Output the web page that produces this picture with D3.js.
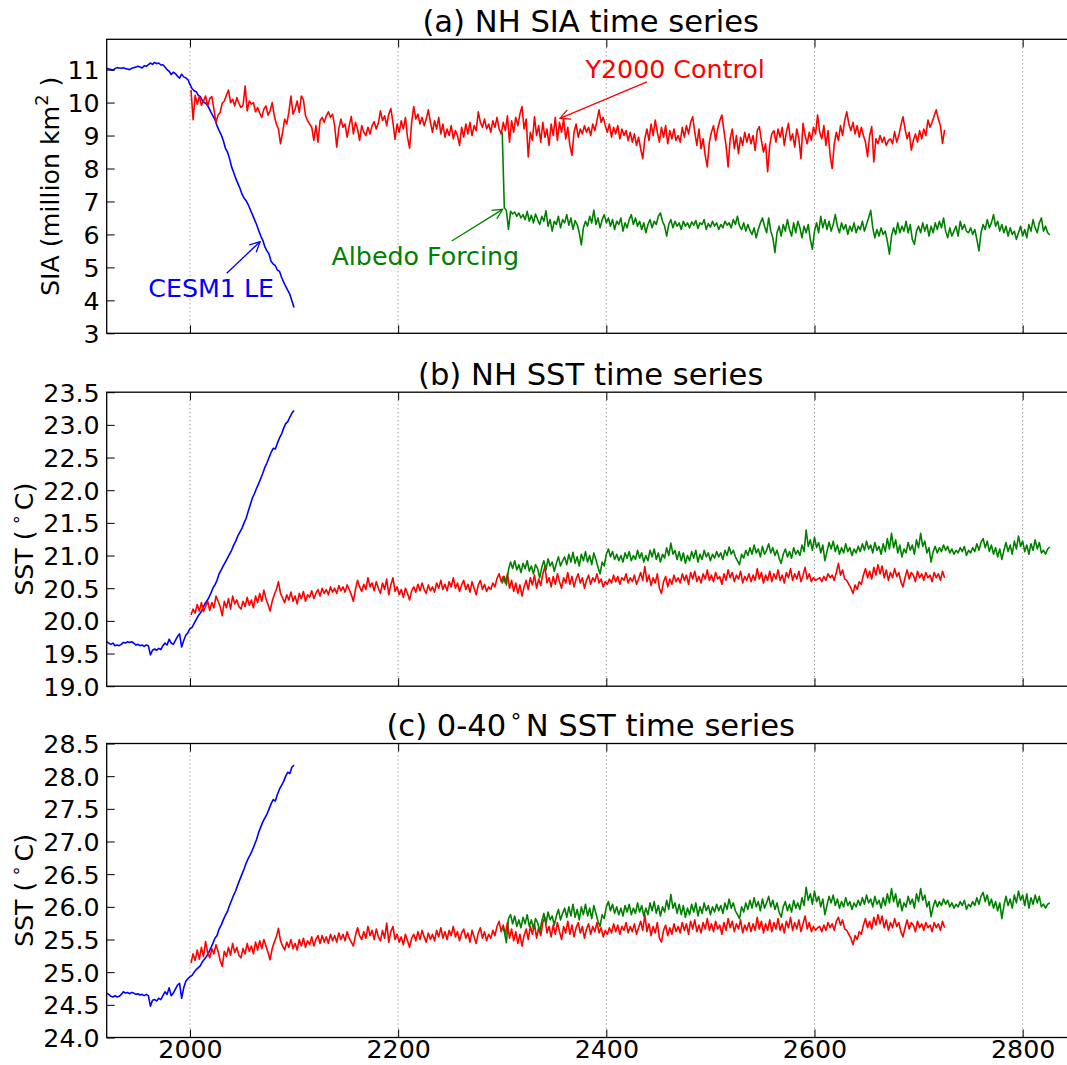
<!DOCTYPE html>
<html><head><meta charset="utf-8">
<script src="https://cdn.jsdelivr.net/npm/d3@7"></script>
<style>
body{margin:0;background:#fff}
svg{display:block}
text{font-family:"DejaVu Sans",sans-serif}
</style>
</head><body>
<svg id="chart" width="1067" height="1065"></svg>
<script>
// ---------------- DATA ----------------
const xDomain = [1920, 2850];
const xTicks = [2000, 2200, 2400, 2600, 2800];
const STEP = 2;                 // years between stored values
const leStart = 1920, ctrlStart = 2001, albStart = 2300;

const siaTicks = [3,4,5,6,7,8,9,10,11];
const nhTicks = [19.0,19.5,20.0,20.5,21.0,21.5,22.0,22.5,23.0,23.5];
const trTicks = [24.0,24.5,25.0,25.5,26.0,26.5,27.0,27.5,28.0,28.5];

// (a) NH SIA, million km^2
const siaLE = [
11.04,11.02,11.00,10.98,11.03,11.06,11.05,11.04,11.06,11.03,
11.02,11.00,11.04,11.06,11.08,11.10,11.08,11.05,11.12,11.10,
11.15,11.20,11.16,11.22,11.18,11.20,11.14,11.15,11.08,11.00,
10.95,10.85,10.92,10.88,10.80,10.74,10.86,10.78,10.75,10.70,
10.55,10.42,10.36,10.33,10.22,10.18,10.05,10.00,9.95,9.85,
9.72,9.60,9.48,9.30,9.15,9.02,8.85,8.62,8.50,8.30,
8.05,7.88,7.70,7.55,7.40,7.22,7.10,7.02,6.90,6.75,
6.60,6.45,6.30,6.12,5.95,5.82,5.62,5.50,5.40,5.18,
5.10,5.05,4.92,4.88,4.70,4.55,4.42,4.30,4.18,3.98,
3.78];
const siaCtrl = [
10.38,9.48,10.22,9.95,10.20,9.92,10.05,10.20,9.90,10.12,
10.18,9.80,9.40,9.62,9.70,9.98,10.05,10.22,10.38,10.00,
10.10,9.90,10.15,9.98,9.85,9.92,10.50,9.75,10.05,9.95,
10.00,9.72,9.85,9.68,9.55,9.80,9.90,9.62,9.75,10.00,
9.60,9.35,9.20,8.75,9.10,9.50,9.35,9.70,10.20,9.65,
9.80,10.05,9.70,10.20,10.08,9.60,9.45,9.35,9.25,8.85,
9.30,8.80,9.45,9.55,9.40,9.60,9.72,9.55,9.65,9.30,
8.65,9.20,9.50,9.25,9.35,8.95,9.30,9.58,9.05,9.40,
9.20,8.85,9.30,9.10,9.00,9.25,9.05,9.30,9.42,9.20,
9.38,9.75,9.45,9.60,9.30,9.65,9.82,9.40,8.88,9.35,
9.10,9.45,9.20,9.55,8.95,8.62,9.40,9.88,9.50,9.65,
9.35,9.55,9.30,9.50,9.78,9.40,9.10,9.45,9.20,9.55,
9.05,9.35,8.95,9.20,9.00,9.30,8.90,9.15,9.00,8.70,
9.25,8.95,9.35,9.05,9.40,9.00,9.30,9.15,9.72,9.40,
9.25,9.50,9.20,9.35,9.10,9.45,9.25,9.55,9.20,9.05,
9.40,9.15,9.60,8.80,9.45,9.10,9.55,9.30,9.65,9.88,
9.20,9.50,8.35,9.10,8.85,9.57,9.00,9.30,8.80,9.40,
8.95,9.20,8.70,9.35,9.00,9.55,8.85,9.40,9.10,9.50,
8.90,9.25,8.70,8.40,9.10,9.35,8.95,9.20,9.05,9.30,
9.10,9.25,9.00,9.35,9.15,9.45,9.78,9.40,9.55,9.30,
9.10,9.35,8.95,9.25,9.05,9.30,8.90,9.20,9.00,9.15,
8.85,9.10,8.80,9.05,8.70,8.95,8.60,8.30,8.90,9.20,
8.85,9.35,9.00,9.47,9.10,8.80,9.25,8.95,9.30,8.75,
9.15,8.90,9.20,8.85,9.00,8.80,9.25,8.95,9.30,9.05,
9.40,9.57,9.10,8.70,9.20,8.60,8.90,8.40,8.05,8.80,
9.10,9.30,8.85,9.20,9.45,9.62,9.15,8.70,8.05,8.90,
9.20,8.60,9.00,8.45,8.95,8.70,9.10,8.80,9.05,8.75,
9.00,8.55,9.15,9.27,8.85,8.50,8.75,7.90,8.70,9.05,
9.15,8.80,9.20,8.95,9.25,8.70,9.10,9.37,8.85,9.05,
8.65,9.20,8.90,8.30,9.37,9.00,8.75,9.10,8.85,9.25,
9.05,9.62,9.10,8.90,9.30,8.70,9.15,8.40,8.00,8.75,
9.10,8.85,9.30,9.00,9.45,9.72,9.35,9.15,9.40,9.05,
9.30,8.95,9.25,9.00,8.80,8.36,9.00,9.27,8.20,8.90,
8.75,9.00,8.80,8.95,8.70,8.85,8.90,8.75,9.12,8.80,
9.00,9.30,9.57,9.20,8.90,9.10,8.56,8.85,9.05,8.80,
9.15,8.90,9.20,9.00,9.47,9.25,9.40,9.60,9.78,9.50,
9.30,8.76,9.17];
const siaAlb = [
9.10,6.82,6.72,6.15,6.70,6.62,6.68,6.55,6.65,6.50,
6.60,6.45,6.70,6.40,6.58,6.35,6.62,6.45,6.30,6.55,
6.40,6.72,6.25,6.45,6.10,6.40,6.30,6.55,6.20,6.45,
6.35,6.60,6.28,6.50,6.15,6.42,6.30,6.05,5.68,6.20,
6.40,6.25,6.55,6.35,6.74,6.30,6.50,6.20,6.45,6.60,
6.35,6.50,6.25,6.45,6.15,6.40,6.30,6.50,6.10,6.35,
6.20,6.45,6.60,6.30,6.50,6.25,6.40,6.15,6.35,6.05,
6.30,6.45,6.20,6.40,6.30,6.55,6.65,6.40,6.25,5.95,
6.30,6.45,6.20,6.40,6.25,6.35,6.15,6.40,6.25,6.35,
6.20,6.38,6.28,6.42,6.18,6.35,6.30,6.45,6.15,6.33,
6.22,6.40,6.25,6.35,6.15,6.30,6.20,6.40,6.28,6.35,
6.20,6.45,6.30,6.55,6.25,6.15,6.35,6.10,6.30,6.12,
6.00,6.20,5.90,6.15,6.35,6.50,6.25,6.05,6.50,6.10,
5.90,5.45,6.05,6.25,5.95,6.30,6.10,6.45,6.15,5.95,
6.35,6.05,6.40,6.20,5.90,6.25,6.05,6.30,5.85,5.55,
6.10,6.35,6.05,6.55,6.20,6.45,6.15,6.40,6.10,6.30,
6.60,6.25,6.05,6.35,6.15,6.30,6.00,6.25,6.10,6.35,
6.05,6.25,6.15,6.40,6.10,6.30,6.50,6.73,6.20,5.90,
6.15,5.95,6.20,6.00,6.10,5.80,5.40,5.95,6.20,6.00,
6.35,6.05,6.25,6.10,6.40,6.05,6.30,5.85,5.70,6.10,
6.25,6.05,6.35,6.10,6.30,5.95,6.25,6.05,6.35,6.15,
6.40,6.20,6.50,6.10,5.90,6.20,5.95,6.10,6.25,5.95,
6.40,6.15,6.30,6.10,6.05,6.20,6.00,6.15,5.85,5.50,
6.05,6.30,6.15,6.45,6.20,6.35,6.60,6.25,6.40,6.10,
6.30,6.05,6.25,5.95,6.20,6.00,6.10,5.85,6.05,6.25,
5.95,6.15,5.90,6.30,6.10,6.45,6.20,6.05,6.35,6.50,
6.10,6.25,6.05,5.98];

// (b) NH SST, deg C
const nhLE = [
19.68,19.66,19.64,19.66,19.62,19.63,19.62,19.64,19.67,19.66,
19.68,19.67,19.68,19.66,19.63,19.64,19.62,19.63,19.61,19.63,
19.62,19.48,19.55,19.57,19.55,19.58,19.56,19.62,19.66,19.63,
19.72,19.66,19.64,19.70,19.76,19.80,19.60,19.70,19.78,19.82,
19.88,19.90,19.96,20.02,20.08,20.12,20.18,20.25,20.30,20.35,
20.42,20.50,20.55,20.62,20.72,20.78,20.84,20.90,20.96,21.02,
21.08,21.16,21.22,21.30,21.36,21.42,21.50,21.57,21.68,21.78,
21.88,21.95,22.03,22.10,22.18,22.26,22.35,22.42,22.50,22.58,
22.64,22.63,22.72,22.80,22.86,22.95,23.02,23.05,23.12,23.18,
23.22];
const nhCtrl = [
20.09,20.18,20.12,20.25,20.15,20.28,20.14,20.22,20.30,20.16,
20.28,20.20,20.38,20.30,20.22,20.08,20.30,20.20,20.34,20.18,
20.38,20.26,20.32,20.22,20.18,20.30,20.22,20.36,20.24,20.32,
20.20,20.38,20.28,20.42,20.30,20.47,20.34,20.25,20.15,20.30,
20.40,20.48,20.60,20.42,20.35,20.28,20.40,20.32,20.44,20.30,
20.38,20.26,20.42,20.34,20.45,20.30,20.40,20.36,20.46,20.34,
20.42,20.48,20.38,20.50,20.42,20.48,20.40,20.52,20.44,20.50,
20.42,20.54,20.46,20.52,20.44,20.55,20.48,20.40,20.30,20.48,
20.62,20.52,20.45,20.56,20.48,20.66,20.52,20.58,20.46,20.60,
20.50,20.42,20.58,20.48,20.64,20.40,20.55,20.66,20.45,20.52,
20.40,20.48,20.36,20.50,20.42,20.32,20.46,20.52,20.44,20.56,
20.46,20.58,20.48,20.42,20.55,20.46,20.52,20.44,20.58,20.50,
20.62,20.48,20.56,20.46,20.60,20.52,20.66,20.50,20.58,20.45,
20.55,20.62,20.48,20.56,20.44,20.60,20.50,20.40,20.55,20.62,
20.48,20.56,20.45,20.52,20.48,20.58,20.52,20.65,20.72,20.60,
20.68,20.58,20.72,20.50,20.62,20.45,20.58,20.42,20.55,20.38,
20.52,20.62,20.48,20.66,20.55,20.70,20.50,20.64,20.54,20.72,
20.83,20.58,20.66,20.52,20.68,20.56,20.72,20.60,20.50,20.66,
20.58,20.74,20.56,20.68,20.52,20.64,20.72,20.58,20.66,20.50,
20.62,20.70,20.56,20.66,20.60,20.72,20.58,20.64,20.52,20.60,
20.56,20.64,20.58,20.70,20.60,20.68,20.56,20.66,20.62,20.72,
20.58,20.66,20.60,20.70,20.56,20.64,20.74,20.62,20.83,20.60,
20.70,20.54,20.66,20.58,20.72,20.50,20.42,20.60,20.68,20.52,
20.64,20.56,20.70,20.60,20.66,20.58,20.72,20.62,20.70,20.56,
20.74,20.64,20.76,20.60,20.68,20.58,20.72,20.64,20.78,20.62,
20.70,20.60,20.74,20.64,20.68,20.56,20.72,20.62,20.78,20.66,
20.74,20.60,20.70,20.64,20.76,20.58,20.68,20.62,20.72,20.60,
20.70,20.62,20.80,20.64,20.74,20.58,20.70,20.62,20.76,20.60,
20.72,20.64,20.78,20.62,20.70,20.58,20.74,20.66,20.80,20.62,
20.72,20.64,20.76,20.60,20.70,20.82,20.64,20.72,20.60,20.66,
20.62,20.64,20.66,20.60,20.68,20.62,20.72,20.66,20.70,20.62,
20.74,20.88,20.70,20.78,20.64,20.62,20.56,20.50,20.42,20.55,
20.48,20.60,20.56,20.70,20.80,20.66,20.76,20.64,20.82,20.70,
20.86,20.72,20.84,20.66,20.78,20.62,20.74,20.66,20.80,20.68,
20.74,20.60,20.52,20.66,20.78,20.64,20.74,20.70,20.60,20.76,
20.66,20.72,20.62,20.74,20.66,20.70,20.60,20.74,20.66,20.72,
20.62,20.76,20.66];
const nhAlb = [
20.57,20.68,20.55,20.78,20.90,20.80,20.92,20.78,20.86,20.74,
20.88,20.80,20.92,20.76,20.84,20.72,20.86,20.80,20.66,20.82,
20.92,20.78,20.95,20.84,20.90,20.76,20.88,20.98,20.84,20.92,
20.98,20.86,21.02,20.90,21.05,20.88,20.98,20.84,21.02,20.92,
21.06,20.90,21.00,20.86,21.04,20.94,20.82,20.72,20.90,20.84,
21.02,21.10,20.98,21.06,20.94,21.02,20.92,21.00,20.90,21.04,
20.96,21.06,20.92,21.00,20.94,21.08,20.96,21.04,20.90,21.00,
20.92,21.08,20.98,21.10,20.94,21.04,20.90,21.02,20.96,21.12,
21.00,21.19,21.02,21.08,20.94,21.06,20.92,21.04,20.88,21.00,
20.92,21.06,20.96,21.08,20.90,21.02,20.94,21.08,20.98,21.04,
20.92,21.02,20.96,21.06,20.98,21.04,20.94,21.08,21.00,21.13,
21.02,21.08,20.98,20.92,20.86,21.02,20.96,21.08,21.00,21.12,
21.02,21.16,21.04,21.10,20.98,21.14,21.02,21.08,21.18,21.04,
21.12,21.00,21.08,20.96,20.88,21.02,21.10,20.98,21.06,20.96,
21.12,21.02,21.08,21.00,21.16,21.06,21.39,21.14,21.24,21.08,
21.28,21.12,21.20,21.04,21.16,20.92,21.06,21.20,21.10,21.22,
21.06,21.16,21.02,21.12,21.04,21.18,21.06,21.12,21.00,21.10,
21.04,21.14,21.06,21.18,21.08,21.22,21.10,21.16,21.04,21.20,
21.08,21.14,21.02,21.18,21.06,21.26,21.10,21.34,21.12,21.24,
21.04,21.16,20.98,21.10,21.04,21.20,21.08,21.16,21.02,21.24,
21.12,21.34,21.14,21.22,21.04,21.12,20.90,21.06,21.14,21.04,
21.12,21.06,21.16,21.08,21.14,21.04,21.10,21.02,21.08,21.04,
21.12,21.06,21.14,21.00,21.08,21.04,21.12,21.06,21.18,21.08,
21.20,21.26,21.12,21.22,21.06,21.16,21.02,21.12,20.98,21.10,
20.94,21.08,21.20,21.06,21.16,21.02,21.22,21.10,21.30,21.14,
21.22,21.06,21.16,21.02,21.18,21.08,21.24,21.10,21.20,21.04,
21.08,21.02,21.10,21.13];

// (c) 0-40N SST, deg C
const trLE = [
24.68,24.66,24.63,24.62,24.64,24.62,24.63,24.66,24.70,24.68,
24.69,24.67,24.69,24.68,24.66,24.67,24.65,24.66,24.64,24.66,
24.64,24.48,24.57,24.58,24.56,24.60,24.58,24.64,24.70,24.66,
24.76,24.64,24.68,24.74,24.80,24.83,24.60,24.76,24.86,24.90,
24.93,24.95,25.00,25.04,25.07,25.10,25.16,25.20,25.24,25.30,
25.37,25.44,25.52,25.56,25.66,25.72,25.80,25.87,25.93,26.02,
26.10,26.18,26.25,26.34,26.42,26.50,26.58,26.67,26.74,26.80,
26.87,26.95,27.03,27.14,27.22,27.30,27.36,27.42,27.50,27.58,
27.64,27.62,27.72,27.80,27.86,27.92,28.00,28.06,28.04,28.14,
28.17];
const trCtrl = [
25.14,25.28,25.18,25.34,25.20,25.38,25.24,25.47,25.30,25.22,
25.36,25.28,25.42,25.32,25.18,25.09,25.32,25.24,25.38,25.26,
25.44,25.30,25.38,25.26,25.22,25.36,25.28,25.44,25.32,25.40,
25.28,25.46,25.34,25.48,25.36,25.50,25.40,25.30,25.19,25.36,
25.46,25.54,25.67,25.48,25.40,25.34,25.46,25.38,25.50,25.36,
25.44,25.34,25.50,25.40,25.52,25.38,25.48,25.42,25.54,25.40,
25.50,25.56,25.44,25.56,25.46,25.54,25.44,25.58,25.48,25.56,
25.46,25.60,25.50,25.58,25.48,25.62,25.52,25.46,25.40,25.56,
25.68,25.56,25.50,25.62,25.52,25.70,25.56,25.64,25.50,25.66,
25.54,25.48,25.64,25.52,25.75,25.46,25.62,25.70,25.50,25.58,
25.46,25.54,25.42,25.58,25.48,25.38,25.52,25.58,25.48,25.62,
25.50,25.64,25.54,25.46,25.60,25.50,25.58,25.48,25.64,25.54,
25.68,25.52,25.62,25.50,25.64,25.56,25.70,25.54,25.62,25.48,
25.60,25.66,25.52,25.60,25.46,25.64,25.54,25.44,25.60,25.68,
25.52,25.62,25.48,25.58,25.52,25.64,25.56,25.70,25.78,25.62,
25.72,25.58,25.76,25.52,25.66,25.48,25.62,25.44,25.58,25.40,
25.56,25.66,25.50,25.70,25.58,25.74,25.52,25.68,25.56,25.76,
25.84,25.60,25.70,25.54,25.72,25.58,25.76,25.62,25.50,25.70,
25.60,25.78,25.58,25.72,25.54,25.68,25.76,25.60,25.70,25.52,
25.66,25.74,25.58,25.70,25.62,25.76,25.60,25.68,25.54,25.64,
25.58,25.68,25.60,25.74,25.62,25.72,25.58,25.70,25.64,25.76,
25.60,25.70,25.62,25.74,25.58,25.68,25.78,25.64,25.88,25.62,
25.74,25.56,25.70,25.60,25.76,25.52,25.46,25.64,25.72,25.56,
25.68,25.58,25.74,25.62,25.70,25.60,25.76,25.64,25.74,25.58,
25.78,25.66,25.80,25.62,25.72,25.60,25.76,25.66,25.82,25.64,
25.74,25.62,25.78,25.66,25.72,25.58,25.76,25.64,25.82,25.68,
25.78,25.62,25.74,25.66,25.80,25.60,25.72,25.64,25.76,25.62,
25.74,25.64,25.84,25.66,25.78,25.60,25.74,25.64,25.80,25.62,
25.76,25.66,25.82,25.64,25.74,25.60,25.78,25.68,25.84,25.64,
25.76,25.66,25.80,25.62,25.74,25.86,25.66,25.76,25.62,25.70,
25.64,25.68,25.70,25.62,25.72,25.64,25.76,25.68,25.74,25.64,
25.78,25.84,25.72,25.80,25.66,25.64,25.58,25.52,25.42,25.56,
25.50,25.62,25.58,25.72,25.82,25.68,25.78,25.66,25.84,25.72,
25.88,25.74,25.86,25.68,25.80,25.64,25.76,25.68,25.82,25.70,
25.76,25.62,25.54,25.68,25.80,25.66,25.76,25.72,25.62,25.78,
25.68,25.74,25.64,25.76,25.68,25.72,25.62,25.76,25.68,25.74,
25.64,25.78,25.68];
const trAlb = [
25.70,25.62,25.45,25.82,25.88,25.74,25.86,25.70,25.80,25.68,
25.84,25.74,25.88,25.70,25.80,25.66,25.82,25.76,25.62,25.78,
25.90,25.74,25.92,25.80,25.86,25.72,25.86,25.96,25.80,25.90,
25.98,25.84,26.00,25.86,26.04,25.84,25.96,25.80,26.00,25.88,
26.04,25.86,25.98,25.82,26.02,25.90,25.78,25.70,25.88,25.82,
26.00,26.08,25.94,26.04,25.90,26.00,25.88,25.98,25.86,26.02,
25.92,26.04,25.88,25.98,25.90,26.06,25.92,26.02,25.86,25.98,
25.88,26.06,25.94,26.08,25.90,26.02,25.86,26.00,25.92,26.10,
25.96,26.19,25.98,26.06,25.90,26.04,25.88,26.02,25.84,25.98,
25.88,26.04,25.92,26.06,25.86,26.00,25.90,26.06,25.94,26.02,
25.88,26.00,25.92,26.04,25.94,26.02,25.90,26.06,25.96,26.12,
25.98,26.06,25.94,25.88,25.82,26.00,25.92,26.06,25.96,26.10,
25.98,26.14,26.00,26.08,25.94,26.12,25.98,26.06,26.16,26.00,
26.10,25.96,26.06,25.92,25.84,26.00,26.08,25.94,26.04,25.92,
26.10,25.98,26.06,25.96,26.14,26.02,26.30,26.10,26.20,26.04,
26.24,26.08,26.16,26.00,26.12,25.88,26.02,26.16,26.06,26.18,
26.02,26.12,25.98,26.08,26.00,26.14,26.02,26.08,25.96,26.06,
26.00,26.10,26.02,26.14,26.04,26.18,26.06,26.12,26.00,26.16,
26.04,26.10,25.98,26.14,26.02,26.20,26.06,26.28,26.08,26.20,
26.00,26.12,25.94,26.06,26.00,26.16,26.04,26.12,25.98,26.20,
26.08,26.28,26.10,26.18,26.00,26.08,25.85,26.00,26.10,26.00,
26.08,26.02,26.12,26.04,26.10,26.00,26.06,25.98,26.04,26.00,
26.08,26.02,26.10,25.96,26.04,26.00,26.08,26.02,26.14,26.04,
26.16,26.22,26.08,26.18,26.02,26.12,25.98,26.08,25.94,26.06,
25.82,26.02,26.16,26.02,26.12,25.98,26.18,26.06,26.24,26.10,
26.18,26.02,26.20,25.98,26.14,26.04,26.18,26.06,26.16,26.00,
26.04,25.98,26.04,26.06];

// annotations for panel (a), in data units [year, value]
const notes = [
  {label:"Y2000 Control",  color:"#ff0000", text:[2380, 10.76], tail:[2439, 10.63], head:[2355.5, 9.52]},
  {label:"Albedo Forcing", color:"#008000", text:[2136, 5.07],  tail:[2251.4, 5.80], head:[2300.4, 6.76]},
  {label:"CESM1 LE",       color:"#0000ff", text:[1960, 4.11],  tail:[2035.3, 4.82], head:[2067.3, 5.78]}
];

// ---------------- LAYOUT ----------------
const ML = 106.7, XR = 1074.7, PH = 294;
const FS = 25.3, TFS = 30.6;
const COL = {le:"#0000ff", ctrl:"#ff0000", alb:"#008000"};

const toPts = (vals, start) => vals.map((v,i)=>[start + i*STEP, v]);

const panels = [
  {top:39.3, domain:[3, 11.92], ticks:siaTicks, fmt:d3.format("d"),
   title:[{t:"(a) NH SIA time series"}],
   ylabel:[{t:"SIA (million km"},{t:"2",sup:true},{t:" )"}], ylx:59,
   series:[[siaLE,leStart,COL.le],[siaCtrl,ctrlStart,COL.ctrl],[siaAlb,albStart,COL.alb]],
   xlabels:false, notes:true},
  {top:392.2, domain:[19, 23.5], ticks:nhTicks, fmt:d3.format(".1f"),
   title:[{t:"(b) NH SST time series"}],
   ylabel:[{t:"SST ("},{t:"\u2218",sup:true,dx:5},{t:"C)",dx:4}], ylx:33,
   series:[[nhLE,leStart,COL.le],[nhCtrl,ctrlStart,COL.ctrl],[nhAlb,albStart,COL.alb]],
   xlabels:false},
  {top:743.5, domain:[24, 28.5], ticks:trTicks, fmt:d3.format(".1f"),
   title:[{t:"(c) 0-40"},{t:"\u2218",sup:true,dx:3},{t:"N SST time series",dx:3}],
   ylabel:[{t:"SST ("},{t:"\u2218",sup:true,dx:5},{t:"C)",dx:4}], ylx:33,
   series:[[trLE,leStart,COL.le],[trCtrl,ctrlStart,COL.ctrl],[trAlb,albStart,COL.alb]],
   xlabels:true}
];

const svg = d3.select("#chart");
const x = d3.scaleLinear().domain(xDomain).range([ML, XR]);

function rich(sel, parts, fs){
  let shift = 0;
  parts.forEach(p=>{
    const ts = sel.append("tspan").text(p.t);
    const target = p.sup ? -0.42*fs : 0;
    if (target - shift !== 0) ts.attr("dy", target - shift);
    shift = target;
    if (p.sup) ts.attr("font-size", fs*0.7);
    if (p.dx) ts.attr("dx", p.dx);
  });
}

function arrow(g, x1, y1, x2, y2, color){
  const a = Math.atan2(y2-y1, x2-x1), L = 10, W = 5;
  const ux = Math.cos(a), uy = Math.sin(a), nx = -uy, ny = ux;
  g.append("line").attr("x1",x1).attr("y1",y1).attr("x2",x2).attr("y2",y2)
    .attr("stroke",color).attr("stroke-width",1.3);
  g.append("path")
    .attr("d",`M${x2-L*ux+W*nx},${y2-L*uy+W*ny}L${x2},${y2}L${x2-L*ux-W*nx},${y2-L*uy-W*ny}`)
    .attr("fill","none").attr("stroke",color).attr("stroke-width",1.3);
}

panels.forEach((p, pi)=>{
  const g = svg.append("g").attr("transform",`translate(0,${p.top})`);
  const y = d3.scaleLinear().domain(p.domain).range([PH, 0]);

  const cid = "clip"+pi;
  g.append("clipPath").attr("id",cid).append("rect")
    .attr("x",ML).attr("y",0).attr("width",XR-ML).attr("height",PH);

  // dotted vertical grid
  g.append("g").selectAll("line").data(xTicks).join("line")
    .attr("x1",d=>x(d)).attr("x2",d=>x(d)).attr("y1",0).attr("y2",PH)
    .attr("stroke","#777").attr("stroke-width",1).attr("stroke-dasharray","1,3");

  // series
  const line = d3.line().x(d=>x(d[0])).y(d=>y(d[1]));
  const lg = g.append("g").attr("clip-path",`url(#${cid})`);
  p.series.forEach(([vals,start,color])=>{
    lg.append("path").datum(toPts(vals,start)).attr("d",line)
      .attr("fill","none").attr("stroke",color).attr("stroke-width",1.6)
      .attr("stroke-linejoin","round");
  });

  // axes (inward ticks)
  const styleAxis = sel => {
    sel.select(".domain").remove();
    sel.selectAll(".tick line").attr("stroke","#000").attr("stroke-width",1);
    sel.selectAll(".tick text").attr("fill","#000").attr("font-size",FS)
      .attr("font-family","DejaVu Sans, sans-serif");
  };
  g.append("g").attr("transform",`translate(${ML},0)`)
    .call(d3.axisLeft(y).tickValues(p.ticks).tickFormat(p.fmt).tickSizeInner(-8).tickSizeOuter(0).tickPadding(7))
    .call(styleAxis).call(s=>s.selectAll(".tick text").attr("dy","0.36em"));
  g.append("g").attr("transform",`translate(0,0)`)
    .call(d3.axisTop(x).tickValues(xTicks).tickFormat("").tickSizeInner(-8).tickSizeOuter(0))
    .call(styleAxis);
  g.append("g").attr("transform",`translate(0,${PH})`)
    .call(d3.axisBottom(x).tickValues(xTicks).tickFormat(p.xlabels ? d3.format("d") : "")
      .tickSizeInner(-8).tickSizeOuter(0).tickPadding(3))
    .call(styleAxis);

  // frame
  g.append("rect").attr("x",ML).attr("y",0).attr("width",XR-ML).attr("height",PH)
    .attr("fill","none").attr("stroke","#000").attr("stroke-width",1.3);

  // title
  const tt = g.append("text").attr("x",(ML+XR)/2).attr("y",-7.5)
    .attr("text-anchor","middle").attr("font-size",TFS).attr("fill","#000");
  rich(tt, p.title, TFS);

  // y label
  const yl = g.append("text")
    .attr("transform",`translate(${p.ylx},${PH/2}) rotate(-90)`)
    .attr("text-anchor","middle").attr("font-size",FS).attr("fill","#000");
  rich(yl, p.ylabel, FS);

  // annotations
  if (p.notes){
    const ag = g.append("g");
    notes.forEach(n=>{
      ag.append("text").attr("x",x(n.text[0])).attr("y",y(n.text[1]))
        .attr("font-size",FS).attr("fill",n.color).text(n.label);
      arrow(ag, x(n.tail[0]), y(n.tail[1]), x(n.head[0]), y(n.head[1]), n.color);
    });
  }
});
</script>
</body></html>
